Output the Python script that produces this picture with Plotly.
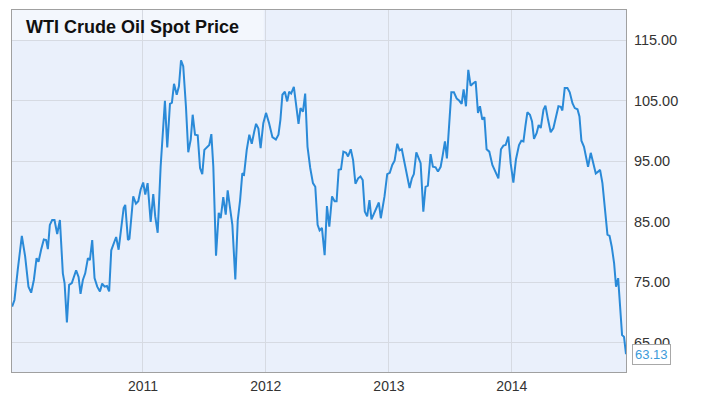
import pandas as pd
import plotly.graph_objects as go

# Dates as decimal years (USD per barrel)
dec_years = [
    2009.935, 2009.954, 2009.981, 2010.014, 2010.041, 2010.068, 2010.090, 2010.112, 2010.134, 2010.150,
    2010.171, 2010.193, 2010.212, 2010.226, 2010.242, 2010.261, 2010.280, 2010.302, 2010.324, 2010.348,
    2010.362, 2010.381, 2010.399, 2010.421, 2010.456, 2010.476, 2010.492, 2010.511, 2010.530, 2010.552,
    2010.568, 2010.587, 2010.606, 2010.628, 2010.650, 2010.668, 2010.688, 2010.707, 2010.725, 2010.742,
    2010.769, 2010.782, 2010.802, 2010.823, 2010.843, 2010.856, 2010.878, 2010.890, 2010.921, 2010.943,
    2010.962, 2010.981, 2011.002, 2011.019, 2011.038, 2011.063, 2011.084, 2011.100, 2011.120, 2011.144,
    2011.179, 2011.198, 2011.220, 2011.236, 2011.253, 2011.275, 2011.293, 2011.310, 2011.328, 2011.350,
    2011.369, 2011.389, 2011.405, 2011.424, 2011.446, 2011.465, 2011.483, 2011.500, 2011.524, 2011.540,
    2011.557, 2011.573, 2011.595, 2011.617, 2011.633, 2011.654, 2011.674, 2011.690, 2011.709, 2011.728,
    2011.752, 2011.772, 2011.791, 2011.809, 2011.823, 2011.845, 2011.866, 2011.886, 2011.905, 2011.921,
    2011.940, 2011.958, 2011.980, 2012.002, 2012.027, 2012.054, 2012.082, 2012.103, 2012.119, 2012.135,
    2012.155, 2012.174, 2012.190, 2012.206, 2012.228, 2012.245, 2012.266, 2012.282, 2012.302, 2012.320,
    2012.339, 2012.361, 2012.383, 2012.402, 2012.421, 2012.437, 2012.456, 2012.478, 2012.497, 2012.516,
    2012.538, 2012.559, 2012.575, 2012.592, 2012.611, 2012.630, 2012.652, 2012.668, 2012.690, 2012.709,
    2012.728, 2012.750, 2012.769, 2012.787, 2012.804, 2012.823, 2012.842, 2012.858, 2012.880, 2012.905,
    2012.918, 2012.934, 2012.964, 2012.986, 2013.007, 2013.027, 2013.046, 2013.068, 2013.086, 2013.105,
    2013.127, 2013.149, 2013.168, 2013.187, 2013.203, 2013.223, 2013.241, 2013.258, 2013.280, 2013.298,
    2013.317, 2013.339, 2013.358, 2013.380, 2013.399, 2013.421, 2013.437, 2013.456, 2013.472, 2013.492,
    2013.508, 2013.529, 2013.551, 2013.573, 2013.592, 2013.608, 2013.627, 2013.646, 2013.665, 2013.687,
    2013.706, 2013.725, 2013.741, 2013.760, 2013.777, 2013.795, 2013.817, 2013.842, 2013.869, 2013.891,
    2013.912, 2013.932, 2013.950, 2013.972, 2013.991, 2014.013, 2014.034, 2014.059, 2014.078, 2014.095,
    2014.111, 2014.127, 2014.148, 2014.165, 2014.181, 2014.203, 2014.219, 2014.236, 2014.258, 2014.274,
    2014.295, 2014.317, 2014.339, 2014.360, 2014.380, 2014.399, 2014.412, 2014.431, 2014.453, 2014.472,
    2014.494, 2014.513, 2014.535, 2014.551, 2014.567, 2014.588, 2014.621, 2014.643, 2014.665, 2014.684,
    2014.703, 2014.719, 2014.738, 2014.757, 2014.779, 2014.796, 2014.814, 2014.833, 2014.849, 2014.866,
    2014.882, 2014.898, 2014.914, 2014.930,
]
prices = [
    71.0, 72.1, 77.1, 82.7, 79.3, 74.3, 73.3, 75.4, 79.0, 78.4,
    80.4, 82.1, 82.0, 80.5, 84.5, 85.3, 85.3, 83.0, 85.3, 76.5,
    74.9, 68.4, 74.6, 74.9, 77.0, 75.9, 73.1, 75.4, 76.5, 79.0,
    78.7, 82.0, 75.7, 74.3, 73.5, 74.8, 74.3, 74.4, 73.5, 80.3,
    81.8, 82.5, 80.4, 84.2, 87.3, 87.8, 82.0, 82.2, 89.2, 88.0,
    88.4, 90.3, 91.5, 89.5, 91.4, 85.0, 89.6, 85.9, 83.2, 94.1,
    105.0, 97.3, 104.5, 104.7, 107.8, 106.0, 107.4, 111.7, 110.7, 104.1,
    96.5, 98.6, 102.7, 99.4, 99.3, 93.9, 92.9, 96.9, 97.4, 97.7,
    99.5, 94.1, 79.4, 86.5, 85.6, 89.1, 86.2, 90.2, 87.3, 84.5,
    75.5, 85.3, 88.6, 93.0, 92.8, 96.9, 99.4, 97.9, 99.8, 101.2,
    100.4, 97.2, 101.3, 103.0, 101.3, 99.0, 98.6, 99.4, 101.9, 106.0,
    106.5, 104.9, 106.5, 106.2, 107.3, 104.6, 101.2, 103.8, 103.2, 106.2,
    97.4, 93.9, 91.4, 90.8, 84.5, 83.6, 84.0, 79.5, 87.6, 84.2,
    89.2, 88.4, 88.4, 93.6, 93.7, 96.6, 96.4, 95.8, 97.0, 95.2,
    91.3, 92.2, 92.5, 91.9, 86.7, 85.9, 88.6, 85.4, 86.4, 87.5,
    88.2, 85.6, 89.2, 92.9, 93.1, 94.4, 95.1, 97.9, 96.8, 97.0,
    94.7, 92.5, 90.6, 92.2, 92.9, 96.5, 95.4, 94.7, 86.7, 90.8,
    91.0, 96.2, 94.1, 94.0, 93.3, 94.1, 95.9, 98.3, 95.5, 101.3,
    106.4, 106.4, 105.4, 105.0, 104.5, 106.9, 104.1, 110.1, 107.5, 107.9,
    108.2, 103.0, 104.1, 101.9, 102.3, 97.0, 96.6, 94.4, 93.3, 92.2,
    97.0, 97.6, 97.7, 99.1, 94.7, 91.5, 95.3, 97.7, 98.4, 98.3,
    100.8, 103.1, 102.7, 101.6, 98.7, 99.7, 101.0, 100.5, 103.5, 104.2,
    101.9, 99.8, 100.5, 102.4, 104.1, 104.0, 103.4, 107.1, 107.1, 106.4,
    104.6, 103.8, 103.6, 102.4, 98.4, 97.4, 94.1, 96.4, 94.4, 93.0,
    93.3, 93.6, 91.4, 87.0, 82.9, 82.7, 80.9, 78.2, 74.3, 75.7,
    71.6, 66.3, 66.0, 63.13,
]
year_ticks = ["2011", "2012", "2013", "2014"]
y_ticks = [65, 75, 85, 95, 105, 115]
title_text = "WTI Crude Oil Spot Price"


def to_date(y):
    yr = int(y)
    start = pd.Timestamp(f"{yr}-01-01")
    end = pd.Timestamp(f"{yr + 1}-01-01")
    return start + (end - start) * (y - yr)


dates = [to_date(y) for y in dec_years]
x_start = to_date(2009.934)
x_end = dates[-1]

fig = go.Figure()
fig.add_trace(go.Scatter(
    x=dates, y=prices, mode="lines",
    line=dict(color="#2a8ad8", width=2),
    hoverinfo="skip", showlegend=False,
))

# page body adds an 8px offset, so the figure is 712x392 placed at (8, 8)
fig.update_layout(
    width=712, height=392,
    margin=dict(l=4, r=94, t=2, b=28),
    paper_bgcolor="white",
    plot_bgcolor="#eaf0fb",
    font=dict(family="Liberation Sans, Arial, sans-serif", color="#333333"),
    xaxis=dict(
        range=[x_start, x_end],
        tickvals=[pd.Timestamp(f"{t}-01-01") for t in year_ticks],
        ticktext=year_ticks,
        showgrid=True, gridcolor="#d6dae2", gridwidth=1,
        showline=True, linecolor="#a0a0a0", linewidth=1, mirror=True,
        ticks="", ticklabelstandoff=1, tickfont=dict(size=14, color="#333333"),
        zeroline=False,
    ),
    yaxis=dict(
        side="right",
        range=[60.2, 120],
        tickvals=y_ticks,
        tickformat=".2f",
        showgrid=True, gridcolor="#d6dae2", gridwidth=1,
        showline=True, linecolor="#a0a0a0", linewidth=1, mirror=True,
        ticks="", ticklabelstandoff=4,
        tickfont=dict(size=14.5, color="#333333"),
        zeroline=False,
    ),
    shapes=[
        dict(type="rect", xref="paper", yref="paper",
             x0=0, x1=0.41, y0=1 - 31 / 362, y1=1,
             fillcolor="rgba(255,255,255,0.45)", line=dict(width=0), layer="below"),
    ],
    annotations=[
        dict(text=f"<b>{title_text}</b>", xref="paper", yref="paper",
             x=12 / 614, y=1 - 17 / 362, xanchor="left", yanchor="middle",
             showarrow=False, font=dict(size=18, color="#111111")),
        dict(text=f"{prices[-1]:.2f}", x=x_end, y=prices[-1], xref="x", yref="y",
             xanchor="left", yanchor="middle", xshift=6, showarrow=False,
             bgcolor="white", bordercolor="#a8a8a8", borderwidth=1, borderpad=2,
             font=dict(size=13, color="#3b9ad9")),
    ],
)

fig.write_html("out.html")
